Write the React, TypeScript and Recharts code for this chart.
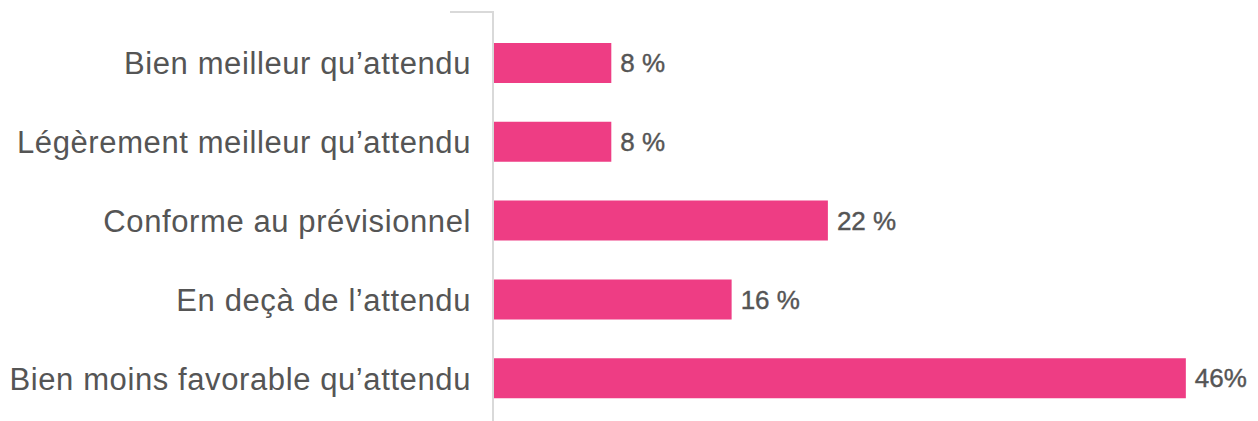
import { Bar, BarChart, LabelList, XAxis, YAxis } from "recharts";

const categories = [
  "Bien meilleur qu’attendu",
  "Légèrement meilleur qu’attendu",
  "Conforme au prévisionnel",
  "En deçà de l’attendu",
  "Bien moins favorable qu’attendu",
];
const shares = [7.8, 7.8, 22.2, 15.8, 46];
const shareLabels = ["8 %", "8 %", "22 %", "16 %", "46%"];

const BAR_COLOR = "#EE3D84";
const TEXT_COLOR = "#555555";
const AXIS_COLOR = "#D9D9D9";
const FONT = "'Helvetica Neue', Helvetica, Arial, 'Liberation Sans', sans-serif";

const data = categories.map((name, i) => ({ name, value: shares[i], label: shareLabels[i] }));

export default function App() {
  return (
    <div style={{ position: "absolute", left: 0, top: 0, width: 1258, height: 421, background: "#fff" }}>
      {/* bracket-shaped frame line at the left of the bars */}
      <svg width={1258} height={421} style={{ position: "absolute", left: 0, top: 0 }}>
        <path d="M450 12 H493 V421" fill="none" stroke={AXIS_COLOR} strokeWidth={2} />
      </svg>
      <div style={{ position: "absolute", left: 0, top: 0 }}>
        <BarChart
          width={1258}
          height={421}
          data={data}
          layout="vertical"
          margin={{ top: 24, right: 12, bottom: 3, left: 0 }}
          barSize={40}
        >
          <XAxis type="number" domain={[0, 50]} hide />
          <YAxis
            type="category"
            dataKey="name"
            width={494}
            axisLine={false}
            tickLine={false}
            tickSize={6}
            tickMargin={17}
            tick={{ fill: TEXT_COLOR, fontSize: 31, fontFamily: FONT, letterSpacing: 0.6 }}
          />
          <Bar dataKey="value" fill={BAR_COLOR} isAnimationActive={false}>
            <LabelList
              dataKey="label"
              position="right"
              offset={9}
              fill={TEXT_COLOR}
              stroke={TEXT_COLOR}
              strokeWidth={0.4}
              fontSize={26}
              fontFamily={FONT}
            />
          </Bar>
        </BarChart>
      </div>
    </div>
  );
}
